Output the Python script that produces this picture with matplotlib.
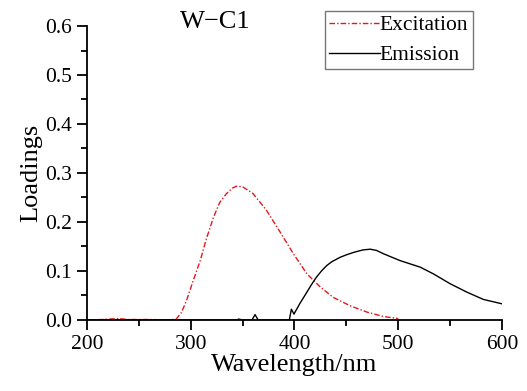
import matplotlib
matplotlib.use("Agg")
import matplotlib.pyplot as plt
from matplotlib.ticker import MultipleLocator

plt.rcParams["font.family"] = ["Liberation Serif", "DejaVu Serif"]

# Excitation loading
ex_wl = [200, 215, 230, 240, 260, 280, 286, 291, 296, 302, 309, 315, 322, 328,
         334.5, 340, 344, 350, 360, 373, 386, 399, 412, 425, 437.5, 453.6, 470,
         486, 500]
ex_val = [0.0, 0.001, 0.003, 0.001, 0.001, 0.0, 0.002, 0.015, 0.04, 0.078,
          0.12, 0.165, 0.21, 0.24, 0.258, 0.269, 0.273, 0.272, 0.258, 0.224,
          0.18, 0.135, 0.094, 0.067, 0.046, 0.029, 0.016, 0.007, 0.003]

# Emission loading
em_wl = [200, 300, 330, 345, 346, 350, 359, 362, 365, 380, 395, 397, 399.5,
         405, 412, 416, 421, 426, 431, 436, 444, 450, 457, 466, 473, 479, 486,
         502, 521, 534, 550, 566, 582, 600]
em_val = [0.0, 0.0, 0.0, 0.0, 0.002, 0.0, 0.0, 0.011, 0.0, 0.0, 0.0, 0.022,
          0.012, 0.033, 0.057, 0.071, 0.087, 0.100, 0.111, 0.119, 0.128,
          0.133, 0.138, 0.143, 0.1445, 0.142, 0.135, 0.121, 0.108, 0.094,
          0.074, 0.057, 0.042, 0.033]

fig = plt.figure(figsize=(5.27, 3.91), dpi=100)
ax = fig.add_axes([0.165, 0.1816, 0.7876, 0.7519])

ax.plot(ex_wl, ex_val, color="#e8161b", lw=1.0, linestyle=(0, (4, 1.5, 1, 1.5)),
        label="Excitation")
ax.plot(em_wl, em_val, color="black", lw=1.0, label="Emission")

ax.set_xlim(200, 600)
ax.set_ylim(0, 0.6)
ax.xaxis.set_major_locator(MultipleLocator(100))
ax.xaxis.set_minor_locator(MultipleLocator(50))
ax.yaxis.set_major_locator(MultipleLocator(0.1))
ax.yaxis.set_minor_locator(MultipleLocator(0.05))
ax.yaxis.set_major_formatter(plt.FuncFormatter(lambda v, p: f"{v:.1f}"))

for side in ("top", "right"):
    ax.spines[side].set_visible(False)
for side in ("left", "bottom"):
    ax.spines[side].set_linewidth(1.3)
ax.tick_params(which="major", direction="out", length=7.5, width=1.3,
               labelsize=15.5, pad=3)
ax.tick_params(which="minor", direction="out", length=4.5, width=1.3)

ax.set_xlabel("Wavelength/nm", fontsize=19, labelpad=0)
ax.set_ylabel("Loadings", fontsize=19, labelpad=2)

fig.text(0.408, 0.945, "W\u2212C1", fontsize=19, ha="center", va="center")

leg = ax.legend(loc="upper left", bbox_to_anchor=(325 / 527, 1 - 11 / 391),
                bbox_transform=fig.transFigure, fontsize=15.5, frameon=True,
                fancybox=False, handlelength=2.35, handletextpad=0.0,
                borderpad=0.2, labelspacing=0.45, borderaxespad=0,
                handleheight=0.7)
leg.get_frame().set_edgecolor("#555555")
leg.get_frame().set_linewidth(1.0)

fig.savefig("out.png", dpi=100)
